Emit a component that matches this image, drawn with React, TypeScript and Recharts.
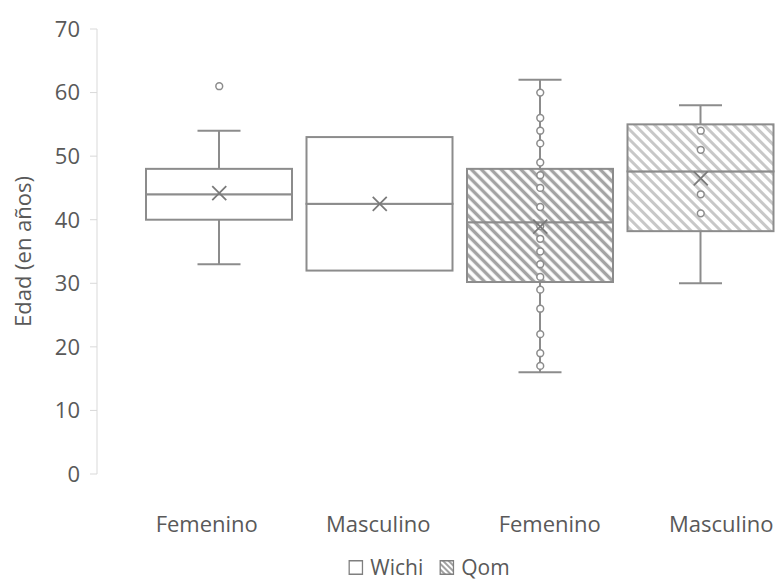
import { Bar, ComposedChart, Scatter, XAxis, YAxis } from "recharts";

const categories = ["Femenino", "Masculino", "Femenino", "Masculino"];
const groups = ["Wichi", "Wichi", "Qom", "Qom"];
const minimums = [33, 32, 16, 30];
const firstQuartiles = [40, 32, 30.2, 38.2];
const medians = [44, 42.5, 39.6, 47.6];
const thirdQuartiles = [48, 53, 48, 55];
const maximums = [54, 53, 62, 58];
const means = [44.2, 42.5, 38.9, 46.5];
const points = [
  [61],
  [],
  [60, 56, 54, 52, 49, 47, 45, 42, 39, 37, 35, 33, 31, 29, 26, 22, 19, 17],
  [54, 51, 44, 41],
];
const yTicks = [0, 10, 20, 30, 40, 50, 60, 70];
const legendItems = ["Wichi", "Qom"];

const pointKeys = Array.from(
  { length: Math.max(...points.map((p) => p.length)) },
  (_, i) => `p${i}`
);

const data = categories.map((name, i) => {
  const row: Record<string, any> = {
    name,
    group: groups[i],
    base: minimums[i],
    lowWhisker: firstQuartiles[i] - minimums[i],
    lowBox: medians[i] - firstQuartiles[i],
    highBox: thirdQuartiles[i] - medians[i],
    highWhisker: maximums[i] - thirdQuartiles[i],
    mean: means[i],
  };
  points[i].forEach((v, j) => {
    row[`p${j}`] = v;
  });
  return row;
});

const STROKE = "#8c8c8c";
const TEXT = "#595959";
const CAP = 21.5;

function boxFill(payload: any) {
  if (payload.group !== "Qom") return "#ffffff";
  return payload.name === "Femenino" ? "url(#hatchDark)" : "url(#hatchLight)";
}

function Empty() {
  return <g />;
}

function BoxPart(props: any) {
  const { x, y, width, height, payload } = props;
  if (!(height > 0.5)) return <g />;
  return (
    <rect
      x={x}
      y={y}
      width={width}
      height={height}
      fill={boxFill(payload)}
      stroke={STROKE}
      strokeWidth={2}
    />
  );
}

function WhiskerLow(props: any) {
  const { x, y, width, height } = props;
  if (!(height > 0.5)) return <g />;
  const cx = x + width / 2;
  return (
    <g stroke={STROKE} strokeWidth={2}>
      <line x1={cx} y1={y} x2={cx} y2={y + height} />
      <line x1={cx - CAP} y1={y + height} x2={cx + CAP} y2={y + height} />
    </g>
  );
}

function WhiskerHigh(props: any) {
  const { x, y, width, height } = props;
  if (!(height > 0.5)) return <g />;
  const cx = x + width / 2;
  return (
    <g stroke={STROKE} strokeWidth={2}>
      <line x1={cx} y1={y} x2={cx} y2={y + height} />
      <line x1={cx - CAP} y1={y} x2={cx + CAP} y2={y} />
    </g>
  );
}

function PointDot(props: any) {
  const { cx, cy } = props;
  if (!Number.isFinite(cx) || !Number.isFinite(cy)) return <g />;
  return <circle cx={cx} cy={cy} r={3.4} fill="#ffffff" stroke={STROKE} strokeWidth={1.5} />;
}

function MeanMark(props: any) {
  const { cx, cy } = props;
  if (!Number.isFinite(cx) || !Number.isFinite(cy)) return <g />;
  const s = 7;
  return (
    <g stroke="#7a7a7a" strokeWidth={1.8}>
      <line x1={cx - s} y1={cy - s} x2={cx + s} y2={cy + s} />
      <line x1={cx - s} y1={cy + s} x2={cx + s} y2={cy - s} />
    </g>
  );
}

function Hatch({ id, color, size, width }: any) {
  return (
    <pattern id={id} patternUnits="userSpaceOnUse" width={size} height={size} patternTransform="rotate(-45)">
      <rect width={size} height={size} fill="#ffffff" />
      <line x1={size / 2} y1={0} x2={size / 2} y2={size} stroke={color} strokeWidth={width} />
    </pattern>
  );
}

function Swatch({ hatched }: { hatched: boolean }) {
  return (
    <svg width={15} height={15} style={{ display: "block" }}>
      <defs>
        <Hatch id="legendHatch" color="#8a8a8a" size={4} width={1.6} />
      </defs>
      <rect
        x={0.75}
        y={0.75}
        width={13.5}
        height={13.5}
        fill={hatched ? "url(#legendHatch)" : "#ffffff"}
        stroke="#7f7f7f"
        strokeWidth={1.5}
      />
    </svg>
  );
}

export default function App() {
  return (
    <div
      style={{
        position: "relative",
        width: 778,
        height: 580,
        overflow: "hidden",
        background: "#ffffff",
        fontFamily: "'Open Sans', sans-serif",
      }}
    >
      <style>{"body{margin:0;overflow:hidden}"}</style>
      <ComposedChart
        width={810}
        height={580}
        data={data}
        margin={{ top: 29, right: 0, bottom: 0, left: 0 }}
        barSize={146}
      >
        <defs>
          <Hatch id="hatchDark" color="#a3a3a3" size={7} width={3.4} />
          <Hatch id="hatchLight" color="#c8c8c8" size={7} width={3} />
        </defs>
        <XAxis dataKey="name" hide height={0} padding={{ left: 42, right: 29 }} />
        <XAxis
          xAxisId="labels"
          dataKey="name"
          height={106}
          axisLine={false}
          tickLine={false}
          tickSize={0}
          tickMargin={42}
          interval={0}
          padding={{ left: 24, right: 3 }}
          tick={{ fill: TEXT, fontSize: 22 }}
        />
        <YAxis
          width={97}
          type="number"
          domain={[0, 70]}
          ticks={yTicks}
          interval={0}
          axisLine={{ stroke: "#d9d9d9" }}
          tickLine={{ stroke: "#d9d9d9" }}
          tickSize={7}
          tickMargin={10}
          tick={{ fill: TEXT, fontSize: 22 }}
          label={{
            value: "Edad (en años)",
            angle: -90,
            position: "insideLeft",
            offset: 23,
            style: { textAnchor: "middle", fill: TEXT, fontSize: 22 },
          }}
        />
        <Bar dataKey="base" stackId="box" shape={Empty} isAnimationActive={false} />
        <Bar dataKey="lowWhisker" stackId="box" shape={WhiskerLow} isAnimationActive={false} />
        <Bar dataKey="lowBox" stackId="box" shape={BoxPart} isAnimationActive={false} />
        <Bar dataKey="highBox" stackId="box" shape={BoxPart} isAnimationActive={false} />
        <Bar dataKey="highWhisker" stackId="box" shape={WhiskerHigh} isAnimationActive={false} />
        {pointKeys.map((k) => (
          <Scatter key={k} dataKey={k} shape={PointDot} isAnimationActive={false} />
        ))}
        <Scatter dataKey="mean" shape={MeanMark} isAnimationActive={false} />
      </ComposedChart>
      <div
        style={{
          position: "absolute",
          left: 429,
          top: 557,
          transform: "translateX(-50%)",
          display: "flex",
          alignItems: "center",
          fontSize: 21,
          color: TEXT,
          whiteSpace: "nowrap",
          lineHeight: "21px",
        }}
      >
        {legendItems.map((item, i) => (
          <span
            key={item}
            style={{ display: "flex", alignItems: "center", gap: 7, marginLeft: i > 0 ? 16 : 0 }}
          >
            <Swatch hatched={i > 0} />
            {item}
          </span>
        ))}
      </div>
    </div>
  );
}
